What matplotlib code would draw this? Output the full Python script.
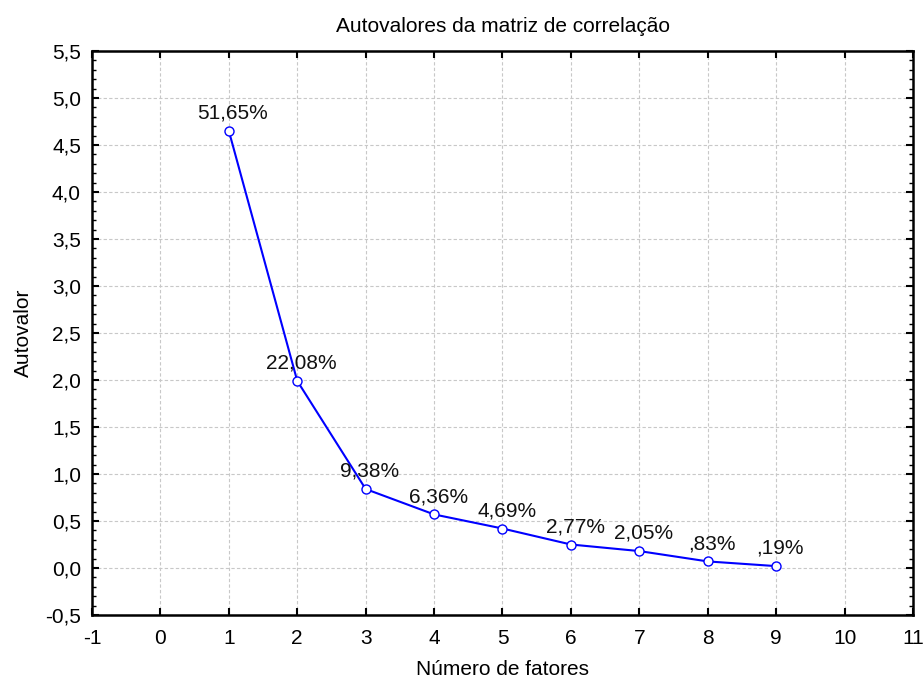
import matplotlib
matplotlib.use("Agg")
import matplotlib.pyplot as plt
from matplotlib.ticker import MultipleLocator, FuncFormatter

plt.rcParams['font.family'] = ['Liberation Sans', 'DejaVu Sans']
plt.rcParams['axes.unicode_minus'] = False

factors = [1, 2, 3, 4, 5, 6, 7, 8, 9]
eigenvalues = [4.65, 1.99, 0.84, 0.57, 0.42, 0.25, 0.18, 0.07, 0.02]
pct_labels = ["51,65%", "22,08%", "9,38%", "6,36%", "4,69%", "2,77%", "2,05%", ",83%", ",19%"]

fig = plt.figure(figsize=(9.23, 6.84), dpi=100)
ax = fig.add_axes([92 / 923, 1 - 615 / 684, (913 - 92) / 923, (615 - 51) / 684])

ax.plot(factors, eigenvalues, color='#0000ff', lw=1.5, marker='o', ms=6.5,
        mfc='white', mec='#0000ff', mew=1.0, zorder=3, clip_on=False)

for x, y, lab in zip(factors, eigenvalues, pct_labels):
    ax.annotate(lab, (x, y), xytext=(3, 6), textcoords='offset points',
                ha='center', va='bottom', fontsize=15, color='#111111')

ax.set_xlim(-1, 11)
ax.set_ylim(-0.5, 5.5)
ax.xaxis.set_major_locator(MultipleLocator(1))
ax.yaxis.set_major_locator(MultipleLocator(0.5))
ax.yaxis.set_minor_locator(MultipleLocator(0.1))
ax.yaxis.set_major_formatter(FuncFormatter(lambda v, p: f"{v:.1f}".replace('.', ',')))

ax.grid(True, which='major', color='#c8c8c8', linestyle=(0, (3, 2)), linewidth=0.8)
ax.set_axisbelow(True)

for s in ax.spines.values():
    s.set_linewidth(1.8)
    s.set_color('black')

ax.tick_params(axis='both', which='major', direction='in', length=5, width=1.5,
               top=True, right=True, labelsize=15, pad=8)
ax.tick_params(axis='x', which='major', pad=10)
ax.tick_params(axis='y', which='minor', direction='in', length=3, width=1.0,
               left=True, right=True)

ax.set_title("Autovalores da matriz de correlação", fontsize=15, pad=14)
ax.set_xlabel("Número de fatores", fontsize=15, labelpad=9)
ax.set_ylabel("Autovalor", fontsize=15, labelpad=9)

fig.savefig("out.png", dpi=100)
